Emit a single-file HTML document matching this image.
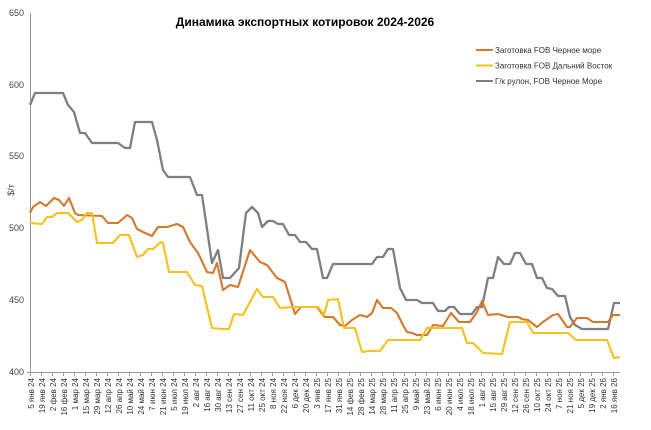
<!DOCTYPE html>
<html><head><meta charset="utf-8"><style>
html,body{margin:0;padding:0;background:#fff;}
svg{display:block;font-family:"Liberation Sans","DejaVu Sans",sans-serif;}
</style></head><body>
<svg width="651" height="430" viewBox="0 0 651 430" xmlns="http://www.w3.org/2000/svg">
<rect width="651" height="430" fill="#fff"/>
<text x="305" y="26" text-anchor="middle" font-size="12" font-weight="bold" fill="#000">Динамика экспортных котировок 2024-2026</text>
<g font-size="9" fill="#444" text-anchor="end">
<text x="24" y="16">650</text><text x="24" y="88">600</text><text x="24" y="159">550</text>
<text x="24" y="231">500</text><text x="24" y="303">450</text><text x="24" y="375">400</text>
</g>
<text transform="translate(14,190) rotate(-90)" font-size="9" fill="#444" text-anchor="middle">$/т</text>
<line x1="30.5" y1="13" x2="30.5" y2="372" stroke="#999" stroke-width="1"/>
<line x1="27" y1="372.5" x2="620" y2="372.5" stroke="#999" stroke-width="1"/>
<path stroke="#999" stroke-width="1" fill="none" d="M30.5 372v4M41.5 372v4M52.5 372v4M63.5 372v4M74.5 372v4M85.5 372v4M96.5 372v4M107.5 372v4M118.5 372v4M129.5 372v4M140.5 372v4M151.5 372v4M162.5 372v4M173.5 372v4M184.5 372v4M195.5 372v4M206.5 372v4M217.5 372v4M228.5 372v4M239.5 372v4M250.5 372v4M261.5 372v4M272.5 372v4M283.5 372v4M294.5 372v4M305.5 372v4M316.5 372v4M327.5 372v4M338.5 372v4M349.5 372v4M360.5 372v4M371.5 372v4M382.5 372v4M393.5 372v4M404.5 372v4M415.5 372v4M426.5 372v4M437.5 372v4M448.5 372v4M459.5 372v4M470.5 372v4M481.5 372v4M492.5 372v4M503.5 372v4M514.5 372v4M525.5 372v4M536.5 372v4M547.5 372v4M558.5 372v4M569.5 372v4M580.5 372v4M591.5 372v4M602.5 372v4M613.5 372v4"/>
<polyline fill="none" stroke="#7f7f7f" stroke-width="2.3" stroke-linejoin="round" points="30,105 35,93 63,93 68,105 74,112 80,133 85,133 92,143 118,143 125,148 130,148 135,122 152,122 157,140 163,170 168,177 190,177 197,195 202,195 212,263 218,250 223,278 230,278 239,268 246,213 252,207 258,213 262,227 268,221 273,221 278,224 283,224 289,235 295,235 300,242 306,242 312,249 317,249 323,278 327,278 333,264 372,264 377,257 383,257 388,249 393,249 400,288 406,300 417,300 422,303 433,303 438,311 445,311 449,307 454,307 460,314 472,314 477,307 482,307 488,278 493,278 498,257 504,264 510,264 515,253 520,253 526,264 532,264 537,278 542,278 547,288 552,289 558,296 565,296 570,317 575,325 582,329 608,329 614,303 620,303"/>
<polyline fill="none" stroke="#d4792a" stroke-width="2.1" stroke-linejoin="round" points="30,213 33,207 40,202 46,206 54,198 59,200 64,206 69,198 75,213 78,215 102,216 108,223 118,223 127,215 132,218 137,229 143,232 152,236 158,227 167,227 177,224 183,227 190,242 198,253 207,272 213,273 217,263 223,290 230,285 238,287 250,250 260,262 267,265 277,278 285,282 295,314 301,307 317,307 323,315 325,317 333,317 340,325 345,326 352,320 360,315 367,317 372,313 377,300 383,308 391,308 397,313 403,325 407,332 412,333 417,335 427,335 433,325 443,326 451,313 459,322 470,322 477,312 482,301 488,315 498,314 508,317 518,317 522,319 528,320 537,327 543,322 553,315 558,314 567,327 570,327 577,318 587,318 593,322 608,322 613,315 620,315"/>
<polyline fill="none" stroke="#f5c11a" stroke-width="2.1" stroke-linejoin="round" points="30,223 42,224 47,217 52,217 57,213 68,213 77,222 82,220 87,213 92,213 97,243 103,243 113,243 120,235 129,235 137,257 143,255 148,249 153,249 161,242 163,243 169,272 187,272 195,285 202,286 212,328 222,329 229,329 234,314 243,315 257,289 263,297 273,297 280,308 293,307 318,307 322,312 324,315 328,300 338,299 344,328 355,328 362,352 368,351 380,351 388,340 420,340 427,328 462,328 467,343 473,343 483,353 502,354 510,322 527,322 533,333 568,333 576,340 607,340 614,358 620,357"/>
<g font-size="8" fill="#333">
<line x1="476" y1="50" x2="493" y2="50" stroke="#d4792a" stroke-width="2"/><text x="495" y="53">Заготовка FOB Черное море</text>
<line x1="476" y1="65.5" x2="493" y2="65.5" stroke="#f5c11a" stroke-width="2"/><text x="495" y="68.5">Заготовка FOB Дальний Восток</text>
<line x1="476" y1="81" x2="493" y2="81" stroke="#7f7f7f" stroke-width="2"/><text x="495" y="84">Г/к рулон, FOB Черное Море</text>
</g>
<g font-size="8" fill="#333" text-anchor="end">
<text transform="translate(34,378) rotate(-90)">5 янв 24</text>
<text transform="translate(45,378) rotate(-90)">19 янв 24</text>
<text transform="translate(56,378) rotate(-90)">2 фев 24</text>
<text transform="translate(67,378) rotate(-90)">16 фев 24</text>
<text transform="translate(78,378) rotate(-90)">1 мар 24</text>
<text transform="translate(89,378) rotate(-90)">15 мар 24</text>
<text transform="translate(100,378) rotate(-90)">29 мар 24</text>
<text transform="translate(111,378) rotate(-90)">12 апр 24</text>
<text transform="translate(122,378) rotate(-90)">26 апр 24</text>
<text transform="translate(133,378) rotate(-90)">10 май 24</text>
<text transform="translate(144,378) rotate(-90)">24 май 24</text>
<text transform="translate(155,378) rotate(-90)">7 июн 24</text>
<text transform="translate(166,378) rotate(-90)">21 июн 24</text>
<text transform="translate(177,378) rotate(-90)">5 июл 24</text>
<text transform="translate(188,378) rotate(-90)">19 июл 24</text>
<text transform="translate(199,378) rotate(-90)">2 авг 24</text>
<text transform="translate(210,378) rotate(-90)">16 авг 24</text>
<text transform="translate(221,378) rotate(-90)">30 авг 24</text>
<text transform="translate(232,378) rotate(-90)">13 сен 24</text>
<text transform="translate(243,378) rotate(-90)">27 сен 24</text>
<text transform="translate(254,378) rotate(-90)">11 окт 24</text>
<text transform="translate(265,378) rotate(-90)">25 окт 24</text>
<text transform="translate(276,378) rotate(-90)">8 ноя 24</text>
<text transform="translate(287,378) rotate(-90)">22 ноя 24</text>
<text transform="translate(298,378) rotate(-90)">6 дек 24</text>
<text transform="translate(309,378) rotate(-90)">20 дек 24</text>
<text transform="translate(320,378) rotate(-90)">3 янв 25</text>
<text transform="translate(331,378) rotate(-90)">17 янв 25</text>
<text transform="translate(342,378) rotate(-90)">31 янв 25</text>
<text transform="translate(353,378) rotate(-90)">14 фев 25</text>
<text transform="translate(364,378) rotate(-90)">28 фев 25</text>
<text transform="translate(375,378) rotate(-90)">14 мар 25</text>
<text transform="translate(386,378) rotate(-90)">28 мар 25</text>
<text transform="translate(397,378) rotate(-90)">11 апр 25</text>
<text transform="translate(408,378) rotate(-90)">25 апр 25</text>
<text transform="translate(419,378) rotate(-90)">9 май 25</text>
<text transform="translate(430,378) rotate(-90)">23 май 25</text>
<text transform="translate(441,378) rotate(-90)">6 июн 25</text>
<text transform="translate(452,378) rotate(-90)">20 июн 25</text>
<text transform="translate(463,378) rotate(-90)">4 июл 25</text>
<text transform="translate(474,378) rotate(-90)">18 июл 25</text>
<text transform="translate(485,378) rotate(-90)">1 авг 25</text>
<text transform="translate(496,378) rotate(-90)">15 авг 25</text>
<text transform="translate(507,378) rotate(-90)">29 авг 25</text>
<text transform="translate(518,378) rotate(-90)">12 сен 25</text>
<text transform="translate(529,378) rotate(-90)">26 сен 25</text>
<text transform="translate(540,378) rotate(-90)">10 окт 25</text>
<text transform="translate(551,378) rotate(-90)">24 окт 25</text>
<text transform="translate(562,378) rotate(-90)">7 ноя 25</text>
<text transform="translate(573,378) rotate(-90)">21 ноя 25</text>
<text transform="translate(584,378) rotate(-90)">5 дек 25</text>
<text transform="translate(595,378) rotate(-90)">19 дек 25</text>
<text transform="translate(606,378) rotate(-90)">2 янв 26</text>
<text transform="translate(617,378) rotate(-90)">16 янв 26</text>
</g>
</svg>
</body></html>
